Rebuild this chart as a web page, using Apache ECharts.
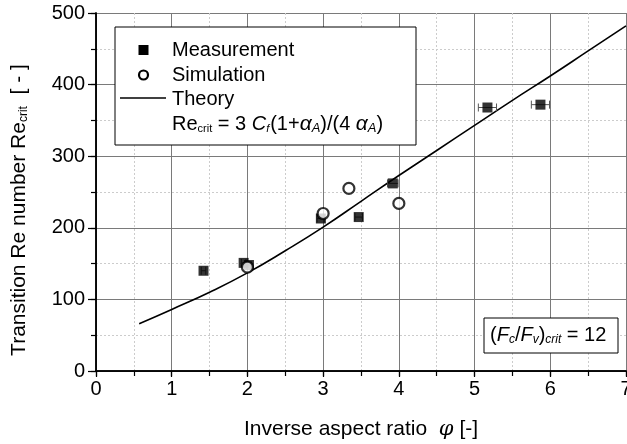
<!DOCTYPE html>
<html><head><meta charset="utf-8">
<script src="https://cdn.jsdelivr.net/npm/echarts@6/dist/echarts.min.js"></script>
<style>html,body{margin:0;padding:0;background:#fff}#chart{width:627px;height:444px}</style>
</head><body><div id="chart"></div>
<script>
// Measured transition Reynolds numbers with horizontal uncertainty in phi
const measX = [1.42, 1.95, 2.02, 2.97, 3.47, 3.92, 5.17, 5.87];
const measY = [140, 151, 148, 213, 215, 262, 368, 372];
const measErrX = [0.03, 0.03, 0.03, 0.05, 0.05, 0.07, 0.12, 0.12];
// Simulated values
const simX = [2.0, 3.0, 3.34, 4.0];
const simY = [145, 220, 255, 234];
// Theory curve Re_crit = 3 Cf (1+aA)/(4 aA)
const theoryX = [0.57, 1.0, 1.5, 2.0, 2.5, 3.0, 3.5, 4.0, 4.5, 5.0, 5.5, 6.0, 6.5, 7.0];
const theoryY = [66, 86, 110, 137, 168, 201, 237, 273, 308, 343, 378, 412, 447, 482];

const FONT = '"Liberation Sans", Arial, sans-serif';
const FS = 20;   // tick labels and legend
const TS = 21;   // axis titles

const chart = echarts.init(document.getElementById('chart'), null, {renderer: 'canvas'});

const zip = (a, b) => a.map((v, i) => [v, b[i]]);

const option = {
  animation: false,
  backgroundColor: '#fff',
  textStyle: {fontFamily: FONT},
  grid: {left: 96, right: 1, top: 13, bottom: 73, outerBoundsMode: 'none'},
  xAxis: [{
    type: 'value', min: 0, max: 7, interval: 1,
    axisLine: {show: true, onZero: false, lineStyle: {color: '#000', width: 1.5}},
    axisTick: {show: true, inside: false, length: 6, lineStyle: {color: '#000', width: 1.2}},
    minorTick: {show: true, splitNumber: 2, length: 3, lineStyle: {color: '#000', width: 1}},
    splitLine: {show: true, lineStyle: {color: '#7a7a7a', width: 1}},
    minorSplitLine: {show: true, lineStyle: {color: '#cccccc', width: 1, type: [2, 2]}},
    axisLabel: {color: '#000', fontSize: FS, fontFamily: FONT, margin: 8},
    name: '{n|Inverse aspect ratio  }{i|φ}{n| [-]}',
    nameLocation: 'middle', nameGap: 48,
    nameTextStyle: {rich: {
      n: {fontSize: TS, fontFamily: FONT, color: '#000'},
      i: {fontSize: TS, fontFamily: '"DejaVu Serif", serif', fontStyle: 'italic', color: '#000'}
    }}
  }, {
    type: 'value', min: 0, max: 7, interval: 0.5, position: 'top',
    axisLine: {show: true, lineStyle: {color: '#000', width: 1.5}},
    axisTick: {show: true, inside: true, length: 5, lineStyle: {color: '#000', width: 1.2}},
    axisLabel: {show: false}, splitLine: {show: false}
  }],
  yAxis: [{
    type: 'value', min: 0, max: 500, interval: 100,
    axisLine: {show: true, onZero: false, lineStyle: {color: '#000', width: 1.5}},
    axisTick: {show: true, inside: false, length: 8, lineStyle: {color: '#000', width: 1.2}},
    splitLine: {show: true, lineStyle: {color: '#7a7a7a', width: 1}},
    minorTick: {show: false, splitNumber: 2},
    minorSplitLine: {show: true, lineStyle: {color: '#cccccc', width: 1, type: [2, 2]}},
    axisLabel: {color: '#000', fontSize: FS, fontFamily: FONT, margin: 11}
  }, {
    type: 'value', min: 0, max: 500, interval: 50, position: 'right',
    axisLine: {show: true, lineStyle: {color: '#000', width: 1.5}},
    axisTick: {show: true, inside: true, length: 5, lineStyle: {color: '#000', width: 1.2}},
    axisLabel: {show: false}, splitLine: {show: false}
  }],
  series: [{
    name: 'Theory', type: 'line', data: zip(theoryX, theoryY),
    showSymbol: false, smooth: true, lineStyle: {color: '#000', width: 1.6}, z: 3
  }, {
    name: 'Error', type: 'custom', z: 4,
    data: measX.map((x, i) => [x, measY[i], measErrX[i]]),
    renderItem: function (params, api) {
      const x = api.value(0), y = api.value(1), e = api.value(2);
      const p0 = api.coord([x - e, y]);
      const p1 = api.coord([x + e, y]);
      const st = {stroke: '#555', lineWidth: 1};
      const c = 4;
      return {type: 'group', children: [
        {type: 'line', shape: {x1: p0[0], y1: p0[1], x2: p1[0], y2: p1[1]}, style: st},
        {type: 'line', shape: {x1: p0[0], y1: p0[1] - c, x2: p0[0], y2: p0[1] + c}, style: st},
        {type: 'line', shape: {x1: p1[0], y1: p1[1] - c, x2: p1[0], y2: p1[1] + c}, style: st}
      ]};
    }
  }, {
    name: 'Measurement', type: 'scatter', data: zip(measX, measY),
    symbol: 'rect', symbolSize: 10, itemStyle: {color: '#000'}, z: 5
  }, {
    name: 'Simulation', type: 'scatter', data: zip(simX, simY),
    symbol: 'circle', symbolSize: 11,
    itemStyle: {color: '#fff', borderColor: '#000', borderWidth: 2.2}, z: 6
  }],
  graphic: [
    // y axis title
    {type: 'text', x: 19, y: 210, rotation: Math.PI / 2, z: 11, style: {
      text: '{n|Transition Re number Re}{s|crit}{n|  [ - ]}',
      align: 'center', verticalAlign: 'middle',
      rich: {
        n: {fontSize: TS, fontFamily: FONT, fill: '#000'},
        s: {fontSize: 12, fontFamily: FONT, fill: '#000', padding: [10, 0, 0, 0]}
      }
    }},
    // legend frame
    {type: 'rect', shape: {x: 115, y: 27, width: 301, height: 118},
     style: {fill: '#fff', stroke: '#000', lineWidth: 1}, z: 10},
    {type: 'rect', shape: {x: 138.5, y: 45, width: 10, height: 10}, style: {fill: '#000'}, z: 11},
    {type: 'text', x: 172, y: 50, style: {text: 'Measurement', font: FS + 'px ' + FONT, fill: '#000', verticalAlign: 'middle'}, z: 11},
    {type: 'circle', shape: {cx: 143.5, cy: 75, r: 4.5}, style: {fill: '#fff', stroke: '#000', lineWidth: 2.2}, z: 11},
    {type: 'text', x: 172, y: 75, style: {text: 'Simulation', font: FS + 'px ' + FONT, fill: '#000', verticalAlign: 'middle'}, z: 11},
    {type: 'line', shape: {x1: 120, y1: 98, x2: 166, y2: 98}, style: {stroke: '#000', lineWidth: 1.6}, z: 11},
    {type: 'text', x: 172, y: 99, style: {text: 'Theory', font: FS + 'px ' + FONT, fill: '#000', verticalAlign: 'middle'}, z: 11},
    {type: 'text', x: 172, y: 124, z: 11, style: {
      text: '{n|Re}{s|crit}{n| = 3 }{i|C}{si|f}{n|(1+}{g|α}{sg|A}{n|)/(4 }{g|α}{sg|A}{n|)}',
      verticalAlign: 'middle',
      rich: {
        n: {fontSize: FS, fontFamily: FONT, fill: '#000'},
        i: {fontSize: FS, fontFamily: FONT, fontStyle: 'italic', fill: '#000'},
        g: {fontSize: FS + 1, fontFamily: FONT, fontStyle: 'italic', fill: '#000'},
        s: {fontSize: 11, fontFamily: FONT, fill: '#000', padding: [10, 0, 0, 0]},
        sg: {fontSize: 13, fontFamily: FONT, fontStyle: 'italic', fill: '#000', padding: [8, 0, 0, 0]},
        si: {fontSize: 11, fontFamily: FONT, fontStyle: 'italic', fill: '#000', padding: [10, 1, 0, 0]}
      }
    }},
    // critical force ratio box
    {type: 'rect', shape: {x: 484, y: 318, width: 134, height: 35},
     style: {fill: '#fff', stroke: '#000', lineWidth: 1}, z: 10},
    {type: 'text', x: 490, y: 335, z: 11, style: {
      text: '{n|(}{i|F}{si|c}{n|/}{i|F}{si|v}{n|)}{si|crit}{n| = 12}',
      verticalAlign: 'middle',
      rich: {
        n: {fontSize: FS, fontFamily: FONT, fill: '#000'},
        i: {fontSize: FS, fontFamily: FONT, fontStyle: 'italic', fill: '#000'},
        si: {fontSize: 12, fontFamily: FONT, fontStyle: 'italic', fill: '#000', padding: [10, 0, 0, 0]}
      }
    }}
  ]
};
chart.setOption(option);
</script></body></html>
